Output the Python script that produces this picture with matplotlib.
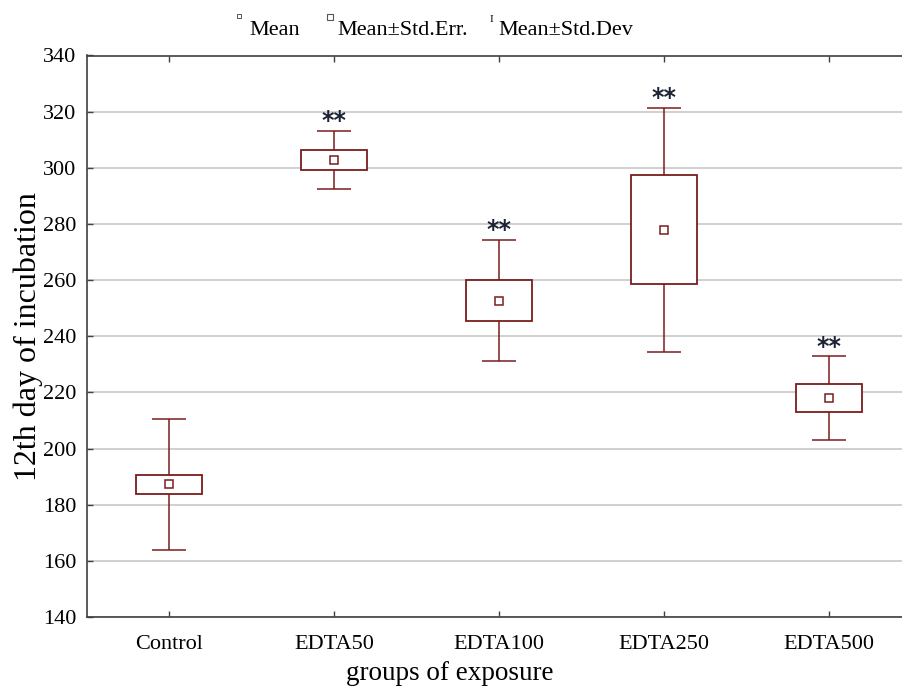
import matplotlib
matplotlib.use("Agg")
import matplotlib.pyplot as plt
from matplotlib.lines import Line2D
import numpy as np

categories = ["Control", "EDTA50", "EDTA100", "EDTA250", "EDTA500"]
means = [187.2, 302.7, 252.6, 278.0, 218.0]
std_err = [3.35, 3.65, 7.3, 19.4, 5.0]
std_dev = [23.4, 10.4, 21.55, 43.45, 14.8]
significant = ["", "**", "**", "**", "**"]
yticks = [140, 160, 180, 200, 220, 240, 260, 280, 300, 320, 340]

MAROON = "#7a1c1c"
plt.rcParams["font.family"] = ["Liberation Serif", "DejaVu Serif"]

fig = plt.figure(figsize=(9.02, 6.90), dpi=100)
ax = fig.add_axes([87/902, 1-617/690, (911.5-87)/902, (617-55.5)/690])

x = np.arange(len(categories))
m = np.array(means)
se = np.array(std_err)
sd = np.array(std_dev)

ax.errorbar(x, m, yerr=sd, fmt="none", ecolor=MAROON, elinewidth=1.1,
            capsize=11.9, capthick=1.1, zorder=3)
ax.bar(x, 2*se, bottom=m-se, width=0.4, facecolor="white", edgecolor=MAROON,
       linewidth=1.3, zorder=4)
ax.plot(x, m, linestyle="none", marker="s", markersize=5.5, markerfacecolor="white",
        markeredgecolor=MAROON, markeredgewidth=1.1, zorder=5)

for xi, top, s in zip(x, m + sd, significant):
    if s:
        ax.annotate(s, xy=(xi, top), xytext=(0, -1.5), textcoords="offset points",
                    ha="center", va="bottom", fontsize=17, fontweight="bold",
                    color="#1c2333", family="DejaVu Sans", zorder=6)

ax.set_xlim(-0.5, 4.5)
ax.set_ylim(140, 340)
ax.set_yticks(yticks)
ax.set_xticks(x)
ax.set_xticklabels(categories)
ax.yaxis.grid(True, color="#c8c8c8", linewidth=1.2)
ax.set_axisbelow(True)
ax.tick_params(axis="both", direction="in", length=4, width=1, colors="#404040",
               labelcolor="black", labelsize=16)
ax.tick_params(axis="x", top=True, pad=13)
ax.tick_params(axis="y", pad=7.5)
for sp in ["left", "bottom", "top"]:
    ax.spines[sp].set_color("#404040")
    ax.spines[sp].set_linewidth(1.2)
ax.spines["right"].set_visible(False)

ax.set_ylabel("12th day of incubation", fontsize=23)
ax.yaxis.set_label_coords((43 - 87) / 824.5, 0.5)
ax.set_xlabel("groups of exposure", fontsize=19.5)
ax.xaxis.set_label_coords((450 - 87) / 824.5, (617 - 661) / 561.5)

# legend row at the top
ft = fig.transFigure
def fx(px):
    return px / 902
def fy(py):
    return 1 - py / 690

fig.add_artist(Line2D([fx(239.5)], [fy(16)], marker="s", markersize=2.4,
                      markerfacecolor="white", markeredgecolor="#555555",
                      markeredgewidth=0.7, linestyle="none", transform=ft))
fig.text(fx(249), fy(35), "Mean", fontsize=16, va="baseline", ha="left")
fig.add_artist(Line2D([fx(329.5)], [fy(16.5)], marker="s", markersize=5,
                      markerfacecolor="white", markeredgecolor="#555555",
                      markeredgewidth=0.8, linestyle="none", transform=ft))
fig.text(fx(337), fy(35), "Mean±Std.Err.", fontsize=16, va="baseline", ha="left")
fig.text(fx(491), fy(22), "I", fontsize=8, va="baseline", ha="center")
fig.text(fx(498), fy(35), "Mean±Std.Dev", fontsize=16, va="baseline", ha="left")

fig.savefig("out.png", dpi=100)
